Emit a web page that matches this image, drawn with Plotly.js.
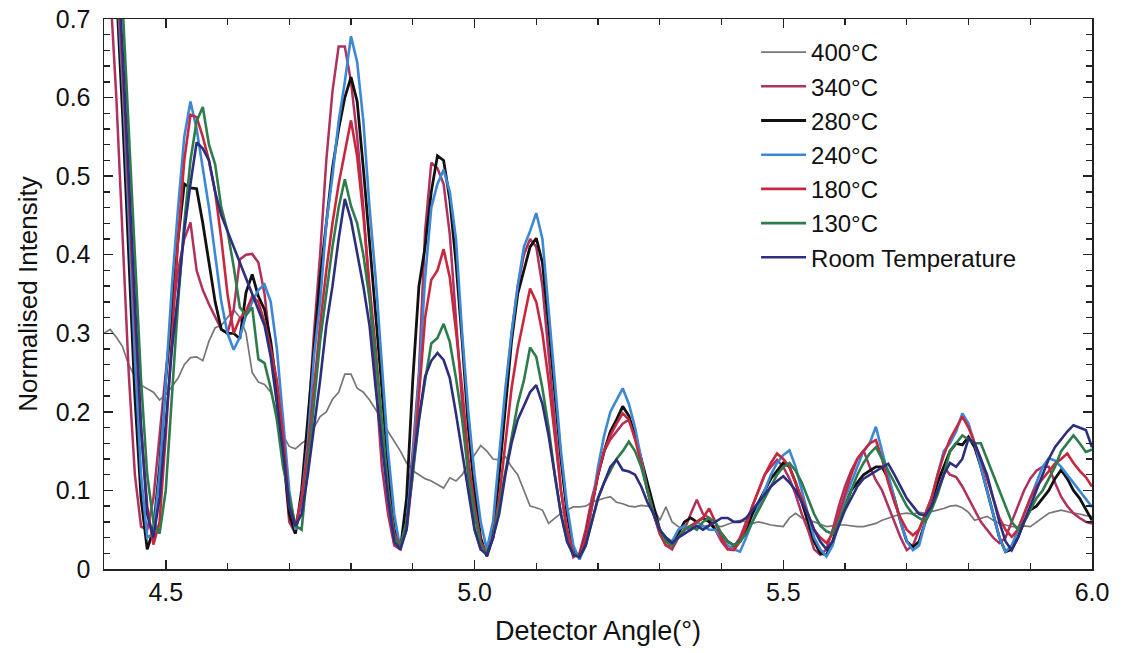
<!DOCTYPE html>
<html>
<head>
<meta charset="utf-8">
<script src="https://cdn.plot.ly/plotly-3.0.1.min.js"></script>
<style>
  html, body { margin: 0; padding: 0; background: #ffffff; }
  #chart { width: 1125px; height: 653px; }
</style>
</head>
<body>
<div id="chart"></div>
<script>
// Sample grid: detector angle from 4.40 to 6.00 in steps of 0.01 degrees
const ANGLE_START = 4.40;
const ANGLE_STEP = 0.01;
const ANGLE_COUNT = 161;

const seriesNames = ["400°C", "340°C", "280°C", "240°C", "180°C", "130°C", "Room Temperature"];

const t400 = [
  0.30, 0.305, 0.295, 0.283, 0.26, 0.245, 0.234, 0.229, 0.225, 0.215,
  0.222, 0.232, 0.243, 0.26, 0.269, 0.27, 0.265, 0.29, 0.307, 0.31,
  0.32, 0.33, 0.32, 0.30, 0.25, 0.238, 0.235, 0.225, 0.20, 0.17,
  0.156, 0.153, 0.16, 0.165, 0.18, 0.194, 0.20, 0.216, 0.225, 0.248,
  0.248, 0.23, 0.225, 0.215, 0.203, 0.19, 0.175, 0.162, 0.15, 0.135,
  0.125, 0.12, 0.115, 0.112, 0.108, 0.103, 0.116, 0.112, 0.12, 0.134,
  0.145, 0.157, 0.15, 0.14, 0.139, 0.143, 0.13, 0.12, 0.10, 0.08,
  0.078, 0.075, 0.058, 0.065, 0.071, 0.075, 0.079, 0.079, 0.08, 0.085,
  0.088, 0.09, 0.092, 0.085, 0.083, 0.08, 0.079, 0.081, 0.08, 0.079,
  0.062, 0.079, 0.06, 0.054, 0.05, 0.052, 0.055, 0.054, 0.056, 0.055,
  0.054, 0.057, 0.06, 0.062, 0.06, 0.058, 0.06, 0.058, 0.056, 0.055,
  0.054, 0.065, 0.071, 0.065, 0.062, 0.06, 0.057, 0.054, 0.055, 0.056,
  0.056, 0.055, 0.054, 0.054, 0.056, 0.058, 0.062, 0.065, 0.067, 0.07,
  0.071, 0.07, 0.072, 0.071, 0.073, 0.075, 0.077, 0.08, 0.081, 0.078,
  0.072, 0.062, 0.065, 0.067, 0.062, 0.058, 0.056, 0.054, 0.054, 0.055,
  0.054, 0.06, 0.066, 0.071, 0.073, 0.075, 0.073, 0.071, 0.07, 0.068,
  0.067
];

const t340 = [
  0.85, 0.74, 0.60, 0.42, 0.25, 0.12, 0.054, 0.05, 0.09, 0.17,
  0.25, 0.32, 0.38, 0.42, 0.441, 0.38, 0.355, 0.337, 0.32, 0.305,
  0.30, 0.33, 0.394, 0.40, 0.401, 0.39, 0.35, 0.28, 0.22, 0.15,
  0.06, 0.045, 0.09, 0.18, 0.30, 0.40, 0.52, 0.608, 0.665, 0.665,
  0.62, 0.55, 0.46, 0.35, 0.24, 0.13, 0.07, 0.03, 0.025, 0.07,
  0.15, 0.25, 0.43, 0.517, 0.51, 0.49, 0.426, 0.312, 0.21, 0.12,
  0.052, 0.025, 0.02, 0.05, 0.13, 0.22, 0.30, 0.36, 0.40, 0.42,
  0.41, 0.36, 0.27, 0.18, 0.10, 0.045, 0.015, 0.02, 0.05, 0.09,
  0.12, 0.15, 0.165, 0.175, 0.185, 0.19, 0.17, 0.14, 0.10, 0.07,
  0.045, 0.03, 0.025, 0.04, 0.05, 0.07, 0.088, 0.07, 0.065, 0.05,
  0.035, 0.025, 0.028, 0.04, 0.06, 0.08, 0.10, 0.12, 0.13, 0.139,
  0.13, 0.115, 0.095, 0.07, 0.05, 0.025, 0.018, 0.025, 0.05, 0.08,
  0.105, 0.125, 0.14, 0.151, 0.13, 0.113, 0.10, 0.08, 0.06, 0.04,
  0.024, 0.03, 0.05, 0.07, 0.09, 0.11, 0.13, 0.12, 0.117, 0.105,
  0.09, 0.075, 0.06, 0.05, 0.04, 0.033, 0.04, 0.06, 0.08, 0.10,
  0.115, 0.125, 0.13, 0.13, 0.11, 0.092, 0.08, 0.071, 0.065, 0.06,
  0.058
];

const t280 = [
  0.95, 0.86, 0.74, 0.58, 0.40, 0.22, 0.09, 0.025, 0.05, 0.13,
  0.24, 0.33, 0.42, 0.49, 0.485, 0.484, 0.44, 0.39, 0.34, 0.305,
  0.30, 0.30, 0.293, 0.352, 0.375, 0.347, 0.33, 0.29, 0.23, 0.15,
  0.07, 0.045, 0.10, 0.19, 0.28, 0.37, 0.44, 0.51, 0.56, 0.60,
  0.626, 0.595, 0.51, 0.42, 0.32, 0.23, 0.13, 0.05, 0.025, 0.09,
  0.24, 0.36, 0.41, 0.48, 0.526, 0.52, 0.47, 0.39, 0.29, 0.18,
  0.10, 0.04, 0.016, 0.04, 0.12, 0.21, 0.29, 0.35, 0.38, 0.41,
  0.421, 0.39, 0.31, 0.22, 0.14, 0.07, 0.025, 0.015, 0.04, 0.08,
  0.12, 0.15, 0.175, 0.19, 0.207, 0.195, 0.17, 0.14, 0.11, 0.08,
  0.05, 0.035, 0.035, 0.045, 0.06, 0.065, 0.06, 0.065, 0.06, 0.05,
  0.045, 0.035, 0.03, 0.035, 0.05, 0.07, 0.085, 0.10, 0.115, 0.125,
  0.135, 0.13, 0.11, 0.085, 0.06, 0.035, 0.02, 0.018, 0.035, 0.06,
  0.08, 0.10, 0.11, 0.12, 0.125, 0.13, 0.13, 0.115, 0.09, 0.06,
  0.035, 0.028, 0.035, 0.06, 0.085, 0.11, 0.13, 0.15, 0.16, 0.158,
  0.168, 0.155, 0.13, 0.10, 0.07, 0.04, 0.022, 0.025, 0.04, 0.06,
  0.075, 0.08, 0.09, 0.10, 0.115, 0.126, 0.115, 0.10, 0.09, 0.075,
  0.062
];

const t240 = [
  0.95, 0.88, 0.76, 0.62, 0.45, 0.27, 0.12, 0.04, 0.045, 0.12,
  0.24, 0.36, 0.46, 0.55, 0.595, 0.56, 0.51, 0.46, 0.40, 0.34,
  0.30, 0.279, 0.295, 0.323, 0.34, 0.355, 0.362, 0.34, 0.28, 0.19,
  0.10, 0.05, 0.09, 0.16, 0.27, 0.34, 0.44, 0.50, 0.57, 0.62,
  0.678, 0.645, 0.57, 0.46, 0.37, 0.26, 0.15, 0.07, 0.025, 0.06,
  0.14, 0.24, 0.37, 0.46, 0.49, 0.508, 0.48, 0.42, 0.30, 0.20,
  0.12, 0.06, 0.025, 0.06, 0.15, 0.23, 0.30, 0.36, 0.41, 0.43,
  0.453, 0.42, 0.33, 0.24, 0.15, 0.08, 0.03, 0.012, 0.03, 0.08,
  0.13, 0.17, 0.20, 0.215, 0.23, 0.21, 0.18, 0.14, 0.10, 0.07,
  0.05, 0.04, 0.035, 0.05, 0.055, 0.05, 0.06, 0.055, 0.05, 0.05,
  0.04, 0.03, 0.025, 0.022, 0.04, 0.06, 0.08, 0.10, 0.12, 0.135,
  0.145, 0.151, 0.13, 0.10, 0.07, 0.04, 0.025, 0.016, 0.03, 0.06,
  0.09, 0.11, 0.13, 0.15, 0.16, 0.181, 0.15, 0.12, 0.09, 0.06,
  0.035, 0.024, 0.03, 0.06, 0.09, 0.12, 0.15, 0.16, 0.175, 0.198,
  0.185, 0.16, 0.13, 0.10, 0.07, 0.04, 0.022, 0.03, 0.05, 0.07,
  0.09, 0.11, 0.13, 0.141, 0.138, 0.13, 0.12, 0.11, 0.10, 0.09,
  0.079
];

const t180 = [
  0.95, 0.88, 0.78, 0.64, 0.48, 0.32, 0.18, 0.08, 0.031, 0.06,
  0.17, 0.30, 0.42, 0.52, 0.578, 0.575, 0.55, 0.52, 0.48, 0.42,
  0.35, 0.30, 0.319, 0.328, 0.347, 0.34, 0.314, 0.28, 0.24, 0.17,
  0.08, 0.055, 0.09, 0.15, 0.23, 0.31, 0.38, 0.44, 0.49, 0.53,
  0.571, 0.525, 0.45, 0.36, 0.28, 0.18, 0.10, 0.045, 0.03, 0.05,
  0.12, 0.22, 0.32, 0.368, 0.38, 0.407, 0.371, 0.303, 0.23, 0.14,
  0.08, 0.035, 0.02, 0.04, 0.09, 0.16, 0.23, 0.28, 0.32, 0.357,
  0.34, 0.30, 0.24, 0.17, 0.10, 0.05, 0.02, 0.015, 0.04, 0.08,
  0.12, 0.15, 0.17, 0.185, 0.198, 0.19, 0.165, 0.135, 0.10, 0.07,
  0.045, 0.03, 0.03, 0.04, 0.05, 0.055, 0.06, 0.065, 0.077, 0.06,
  0.04, 0.025, 0.024, 0.035, 0.055, 0.08, 0.10, 0.12, 0.135, 0.147,
  0.14, 0.13, 0.11, 0.09, 0.07, 0.05, 0.04, 0.033, 0.045, 0.07,
  0.095, 0.12, 0.14, 0.15, 0.16, 0.164, 0.14, 0.11, 0.085, 0.065,
  0.05, 0.043, 0.05, 0.07, 0.09, 0.12, 0.145, 0.165, 0.18, 0.194,
  0.18, 0.16, 0.14, 0.115, 0.09, 0.065, 0.05, 0.041, 0.05, 0.07,
  0.09, 0.105, 0.115, 0.125, 0.134, 0.14, 0.147, 0.135, 0.125, 0.117,
  0.105
];

const t130 = [
  0.98, 0.92, 0.84, 0.72, 0.56, 0.40, 0.24, 0.12, 0.06, 0.045,
  0.10, 0.22, 0.34, 0.44, 0.52, 0.57, 0.588, 0.54, 0.515, 0.46,
  0.43, 0.385, 0.333, 0.323, 0.333, 0.267, 0.262, 0.23, 0.19, 0.13,
  0.09, 0.055, 0.05, 0.13, 0.21, 0.29, 0.35, 0.41, 0.46, 0.496,
  0.462, 0.44, 0.40, 0.344, 0.27, 0.19, 0.10, 0.04, 0.03, 0.06,
  0.12, 0.19, 0.24, 0.287, 0.294, 0.312, 0.289, 0.243, 0.19, 0.12,
  0.07, 0.03, 0.02, 0.04, 0.08, 0.125, 0.17, 0.21, 0.24, 0.282,
  0.27, 0.23, 0.18, 0.12, 0.07, 0.035, 0.02, 0.015, 0.03, 0.06,
  0.09, 0.11, 0.125, 0.14, 0.15, 0.162, 0.15, 0.13, 0.10, 0.07,
  0.05, 0.035, 0.03, 0.04, 0.05, 0.055, 0.05, 0.06, 0.065, 0.06,
  0.045, 0.035, 0.03, 0.035, 0.045, 0.06, 0.075, 0.09, 0.105, 0.12,
  0.13, 0.135, 0.125, 0.11, 0.09, 0.07, 0.055, 0.048, 0.045, 0.06,
  0.08, 0.10, 0.12, 0.135, 0.147, 0.155, 0.14, 0.125, 0.11, 0.095,
  0.08, 0.07, 0.065, 0.06, 0.075, 0.095, 0.12, 0.15, 0.16, 0.17,
  0.165, 0.16, 0.16, 0.14, 0.12, 0.10, 0.08, 0.06, 0.05, 0.06,
  0.075, 0.09, 0.10, 0.115, 0.13, 0.15, 0.16, 0.17, 0.16, 0.149,
  0.152
];

const tRoom = [
  0.98, 0.90, 0.80, 0.66, 0.50, 0.33, 0.18, 0.07, 0.04, 0.09,
  0.18, 0.28, 0.35, 0.43, 0.49, 0.543, 0.535, 0.52, 0.48, 0.45,
  0.43, 0.41, 0.39, 0.37, 0.352, 0.33, 0.31, 0.27, 0.21, 0.15,
  0.08, 0.055, 0.07, 0.12, 0.18, 0.24, 0.31, 0.36, 0.42, 0.471,
  0.444, 0.403, 0.36, 0.31, 0.23, 0.16, 0.09, 0.035, 0.025, 0.05,
  0.13, 0.19, 0.245, 0.265, 0.275, 0.266, 0.243, 0.198, 0.15, 0.10,
  0.05, 0.025, 0.018, 0.04, 0.07, 0.12, 0.16, 0.19, 0.207, 0.225,
  0.234, 0.21, 0.17, 0.12, 0.07, 0.035, 0.018, 0.015, 0.03, 0.06,
  0.09, 0.11, 0.13, 0.139, 0.126, 0.124, 0.12, 0.105, 0.085, 0.07,
  0.05, 0.04, 0.033, 0.04, 0.045, 0.05, 0.055, 0.05, 0.055, 0.06,
  0.065, 0.065, 0.06, 0.06, 0.065, 0.075, 0.085, 0.095, 0.105, 0.112,
  0.118, 0.11, 0.10, 0.085, 0.07, 0.05, 0.035, 0.025, 0.035, 0.055,
  0.075, 0.09, 0.105, 0.115, 0.12, 0.125, 0.13, 0.134, 0.12, 0.105,
  0.09, 0.08, 0.07, 0.068, 0.08, 0.10, 0.12, 0.135, 0.13, 0.14,
  0.166, 0.16, 0.14, 0.12, 0.09, 0.06, 0.035, 0.024, 0.04, 0.06,
  0.08, 0.10, 0.12, 0.14, 0.155, 0.165, 0.175, 0.183, 0.18, 0.177,
  0.155
];

const xTickVals = [4.5, 5.0, 5.5, 6.0];
const xTickText = ["4.5", "5.0", "5.5", "6.0"];
const yTickVals = [0, 0.1, 0.2, 0.3, 0.4, 0.5, 0.6, 0.7];
const yTickText = ["0", "0.1", "0.2", "0.3", "0.4", "0.5", "0.6", "0.7"];

const angles = Array.from({length: ANGLE_COUNT}, (_, i) => +(ANGLE_START + ANGLE_STEP * i).toFixed(2));

const seriesValues = [t400, t340, t280, t240, t180, t130, tRoom];
const seriesColors = ["#777777", "#b0305e", "#111111", "#3d88d6", "#c8283e", "#2e7c4c", "#2c2f7e"];
const seriesWidths = [1.7, 2.5, 2.8, 2.6, 2.6, 2.6, 2.6];

const traces = seriesNames.map((name, k) => ({
  type: "scatter",
  mode: "lines",
  name: name,
  x: angles,
  y: seriesValues[k],
  line: {color: seriesColors[k], width: seriesWidths[k]},
  hoverinfo: "x+y+name"
}));

const FONT = "Liberation Sans, Arial, Helvetica, sans-serif";

const layout = {
  width: 1125,
  height: 653,
  paper_bgcolor: "#ffffff",
  plot_bgcolor: "#ffffff",
  margin: {l: 104, r: 33, t: 19, b: 84},
  font: {family: FONT, color: "#111111", size: 25},
  showlegend: true,
  legend: {
    x: 0.66, xanchor: "left",
    y: 0.98, yanchor: "top",
    bgcolor: "rgba(0,0,0,0)",
    borderwidth: 0,
    font: {family: FONT, size: 24, color: "#111111"},
    itemwidth: 45,
    tracegroupgap: 0
  },
  xaxis: {
    range: [4.4, 6.0],
    showgrid: false,
    zeroline: false,
    showline: true,
    linecolor: "#222222",
    linewidth: 1.5,
    mirror: "ticks",
    ticks: "inside",
    ticklen: 9,
    tickwidth: 1.5,
    tickcolor: "#222222",
    tickvals: xTickVals,
    ticktext: xTickText,
    tickfont: {family: FONT, size: 25, color: "#111111"},
    minor: {ticks: "inside", dtick: 0.1, tick0: 4.4, ticklen: 6, tickwidth: 1.3, tickcolor: "#222222", showgrid: false},
    title: {text: "Detector Angle(°)", font: {family: FONT, size: 27, color: "#111111"}, standoff: 16}
  },
  yaxis: {
    range: [0, 0.7],
    showgrid: false,
    zeroline: false,
    showline: true,
    linecolor: "#222222",
    linewidth: 1.5,
    mirror: "ticks",
    ticks: "inside",
    ticklen: 9,
    tickwidth: 1.5,
    tickcolor: "#222222",
    tickvals: yTickVals,
    ticktext: yTickText,
    tickfont: {family: FONT, size: 25, color: "#111111"},
    ticklabelstandoff: 7,
    minor: {ticks: "inside", dtick: 0.02, tick0: 0, ticklen: 6, tickwidth: 1.3, tickcolor: "#222222", showgrid: false},
    title: {text: "Normalised Intensity", font: {family: FONT, size: 26, color: "#111111"}, standoff: 10}
  }
};

Plotly.newPlot("chart", traces, layout, {displayModeBar: false, staticPlot: true});
</script>
</body>
</html>
